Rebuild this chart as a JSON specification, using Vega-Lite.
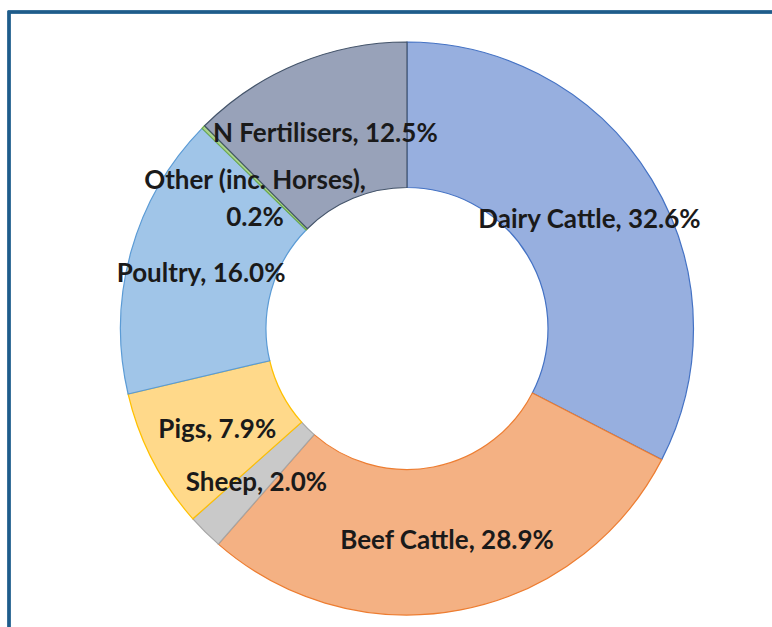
{
  "$schema": "https://vega.github.io/schema/vega-lite/v6.json",
  "width": 796,
  "height": 633,
  "autosize": {"type": "none"},
  "padding": {"left": 9, "top": 12, "right": 0, "bottom": 0},
  "background": "white",
  "config": {"view": {"stroke": null}},
  "data": {
    "values": [
      {"idx": 1, "source": "Dairy Cattle", "share": 32.6, "label": "Dairy Cattle, 32.6%"},
      {"idx": 2, "source": "Beef Cattle", "share": 28.9, "label": "Beef Cattle, 28.9%"},
      {"idx": 3, "source": "Sheep", "share": 2.0, "label": "Sheep, 2.0%"},
      {"idx": 4, "source": "Pigs", "share": 7.9, "label": "Pigs, 7.9%"},
      {"idx": 5, "source": "Poultry", "share": 16.0, "label": "Poultry, 16.0%"},
      {"idx": 6, "source": "Other (inc. Horses)", "share": 0.2, "label": "Other (inc. Horses),\n0.2%"},
      {"idx": 7, "source": "N Fertilisers", "share": 12.5, "label": "N Fertilisers, 12.5%"}
    ]
  },
  "layer": [
    {
      "mark": {"type": "rect", "fill": "transparent", "stroke": "#1F5C8A", "strokeWidth": 2.5},
      "encoding": {}
    },
    {
      "mark": {"type": "arc", "outerRadius": 286.5, "innerRadius": 141, "strokeWidth": 1.2},
      "encoding": {
        "theta": {"field": "share", "type": "quantitative", "stack": true},
        "order": {"field": "idx", "type": "quantitative"},
        "fill": {
          "field": "source", "type": "nominal", "legend": null,
          "scale": {
            "domain": ["Dairy Cattle", "Beef Cattle", "Sheep", "Pigs", "Poultry", "Other (inc. Horses)", "N Fertilisers"],
            "range": ["#97AFDF", "#F4B183", "#C9C9C9", "#FFD98A", "#A0C5E8", "#A9D18E", "#98A2B9"]
          }
        },
        "stroke": {
          "field": "source", "type": "nominal", "legend": null,
          "scale": {
            "domain": ["Dairy Cattle", "Beef Cattle", "Sheep", "Pigs", "Poultry", "Other (inc. Horses)", "N Fertilisers"],
            "range": ["#4472C4", "#ED7D31", "#A5A5A5", "#FFC000", "#5B9BD5", "#70AD47", "#44546A"]
          }
        }
      }
    },
    {
      "mark": {"type": "text", "radius": 213.75, "font": "Lato", "fontWeight": "bold", "fontSize": 26, "lineBreak": "\n", "lineHeight": 37, "dy": 3, "color": "#1A1A1A", "align": "center", "baseline": "middle"},
      "encoding": {
        "theta": {"field": "share", "type": "quantitative", "stack": true},
        "order": {"field": "idx", "type": "quantitative"},
        "text": {"field": "label", "type": "nominal"}
      }
    }
  ]
}
